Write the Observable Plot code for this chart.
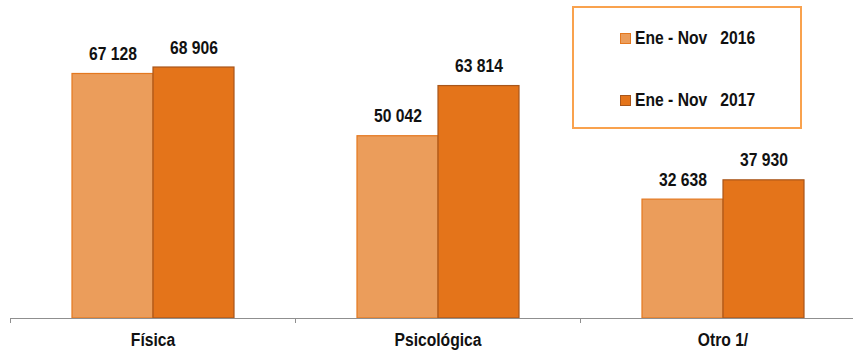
<!DOCTYPE html>
<html>
<head>
<meta charset="utf-8">
<script src="https://cdn.jsdelivr.net/npm/d3@7"></script>
<script src="https://cdn.jsdelivr.net/npm/@observablehq/plot@0.6"></script>
<style>
  html, body { margin: 0; padding: 0; background: #fff; }
  #wrap { position: relative; width: 853px; height: 350px; }
  .lbl { font-family: "Liberation Sans", Arial, sans-serif; font-weight: bold; }
  #legend { position: absolute; left: 572px; top: 6px; width: 226px; height: 119px; border: 2px solid #F9A24E; background: #fff; }
  .item { position: absolute; left: 46px; height: 20px; display: flex; align-items: center; font-size: 18px; color: #111; white-space: pre; }
  .sw { width: 9px; height: 9px; border: 1px solid; margin-right: 4px; flex: none; }
  .txt { display: inline-block; transform: scaleX(0.87); transform-origin: left center; }
</style>
</head>
<body>
<div id="wrap"></div>
<script>
const categories = ["Física", "Psicológica", "Otro 1/"];
const seriesNames = ["Ene - Nov   2016", "Ene - Nov   2017"];
const values2016 = [67128, 50042, 32638];
const values2017 = [68906, 63814, 37930];
const fills = ["#EB9D5B", "#E4741A"];
const strokes = ["#E4781F", "#A8561B"];

const seriesValues = [values2016, values2017];
const data = [];
seriesNames.forEach((s, si) => categories.forEach((c, ci) => data.push({cat: c, series: s, value: seriesValues[si][ci], si})));

const fmt = v => d3.format(",")(v).replace(/,/g, " ");
const font = '"Liberation Sans", Arial, sans-serif';

const chart = Plot.plot({
  width: 853,
  height: 350,
  marginLeft: 10,
  marginRight: -12,
  marginTop: 26.6,
  marginBottom: 32,
  style: {fontFamily: font, background: "#fff"},
  fx: {domain: categories, padding: 0, label: null},
  x: {domain: seriesNames, paddingInner: 0, paddingOuter: 0.738, axis: null},
  y: {domain: [0, 80000], axis: null},
  marks: [
    ...seriesNames.map((s, si) => Plot.barY(data.filter(d => d.si === si), {
      fx: "cat", x: "series", y: "value", fill: fills[si], stroke: strokes[si], strokeWidth: 1.2
    })),
    Plot.ruleY([0], {stroke: "#8f8f8f", strokeWidth: 1}),
    Plot.axisFx({anchor: "bottom", tickSize: 0, tickPadding: 15, fontSize: 18, fontWeight: "bold", fill: "#111", label: null}),
    Plot.axisFx({anchor: "bottom", tickSize: 5, tickFormat: () => "", dx: -142.5, stroke: "#8f8f8f", label: null}),
    Plot.text(data, {
      fx: "cat", x: "series", y: "value", text: d => fmt(d.value),
      lineAnchor: "bottom", dy: -14, fontSize: 18, fontWeight: "bold", fill: "#111"
    })
  ]
});

// condense text horizontally (narrow bold face)
chart.querySelectorAll("text").forEach(t => {
  const tr = t.getAttribute("transform") || "";
  t.setAttribute("transform", (tr + " scale(0.87,1)").trim());
});

const wrap = document.getElementById("wrap");
wrap.appendChild(chart);

const legend = document.createElement("div");
legend.id = "legend";
legend.className = "lbl";
const tops = [20, 82];
seriesNames.forEach((s, i) => {
  const item = document.createElement("div");
  item.className = "item";
  item.style.top = tops[i] + "px";
  const sw = document.createElement("span");
  sw.className = "sw";
  sw.style.background = fills[i];
  sw.style.borderColor = strokes[i];
  const t = document.createElement("span");
  t.className = "txt";
  t.textContent = s;
  item.appendChild(sw);
  item.appendChild(t);
  legend.appendChild(item);
});
wrap.appendChild(legend);
</script>
</body>
</html>
